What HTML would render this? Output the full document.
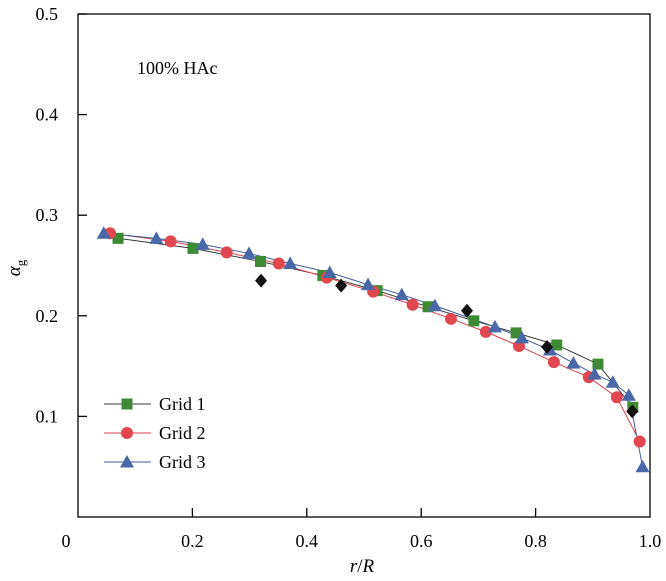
<!DOCTYPE html>
<html><head><meta charset="utf-8"><style>
body{margin:0;background:#fff}
svg{display:block;font-family:"Liberation Serif",serif}
</style></head><body>
<svg id="c" width="666" height="581" viewBox="0 0 666 581">
<g id="axes"></g><g id="series"></g>
<text x="137" y="74" font-size="18">100% HAc</text>
<text x="20" y="268" font-size="19" font-style="italic" transform="rotate(-90 20 268)" text-anchor="middle">α<tspan font-size="13" font-style="normal" dy="5">g</tspan></text>
<text x="362" y="572" font-size="19" text-anchor="middle"><tspan font-style="italic">r</tspan>/<tspan font-style="italic">R</tspan></text>
<g id="legend"></g>
</svg>
<script>
const xTicks=[0,0.2,0.4,0.6,0.8,1.0];
const xTickLabels=["0","0.2","0.4","0.6","0.8","1.0"];
const yTicks=[0.1,0.2,0.3,0.4,0.5];
const yTickLabels=["0.1","0.2","0.3","0.4","0.5"];
const g1x=[.070,.201,.319,.428,.523,.612,.692,.766,.837,.909,.970];
const g1y=[.277,.267,.254,.240,.225,.209,.195,.183,.171,.152,.109];
const g2x=[.056,.162,.260,.351,.435,.516,.585,.652,.713,.771,.832,.893,.942,.982];
const g2y=[.282,.274,.263,.252,.238,.224,.211,.197,.184,.170,.154,.139,.119,.075];
const g3x=[.045,.137,.218,.299,.371,.440,.507,.566,.624,.729,.776,.825,.866,.903,.935,.963,.987];
const g3y=[.282,.277,.271,.262,.252,.243,.231,.221,.210,.189,.178,.166,.153,.142,.134,.121,.050];
const expX=[.320,.460,.680,.820,.969];
const expY=[.235,.230,.205,.169,.105];
const NS="http://www.w3.org/2000/svg";
const X=v=>78+572*v, Y=v=>517-1006*v;
function mk(t,a,p){const e=document.createElementNS(NS,t);for(const k in a)e.setAttribute(k,a[k]);p.appendChild(e);return e;}
const ax=document.getElementById('axes'), se=document.getElementById('series'), lg=document.getElementById('legend');
let l=mk('rect',{x:X(0),y:Y(0.5),width:X(1)-X(0),height:Y(0)-Y(0.5),fill:'none',stroke:'#000','stroke-width':1.3},ax);


xTicks.forEach((v,i)=>{
 if(v>0&&v<1){const k=mk('line',{x1:X(v),x2:X(v),y1:Y(0),y2:Y(0)-9,stroke:'#000','stroke-width':1.3},ax);
 
 }
 const t=mk('text',{x:v===0?66:X(v),y:547,'font-size':18,'text-anchor':'middle'},ax);t.textContent=xTickLabels[i];
 
 
});
yTicks.forEach((v,i)=>{
 const k=mk('line',{x1:X(0),x2:X(0)+9,y1:Y(v),y2:Y(v),stroke:'#000','stroke-width':1.3},ax);
 
 
 const t=mk('text',{x:58,y:Y(v)+6,'font-size':18,'text-anchor':'end'},ax);t.textContent=yTickLabels[i];
 
 
});
function marker(type,cx,cy,col,p){
 if(type==='sq')return mk('rect',{x:cx-5.5,y:cy-5.5,width:11,height:11,fill:col},p);
 if(type==='ci')return mk('circle',{cx,cy,r:6,fill:col},p);
 if(type==='tr')return mk('path',{d:`M${cx} ${cy-7}L${cx+7} ${cy+5.5}L${cx-7} ${cy+5.5}Z`,fill:col},p);
 return mk('path',{d:`M${cx} ${cy-7}L${cx+6} ${cy}L${cx} ${cy+7}L${cx-6} ${cy}Z`,fill:col},p);
}
const S=[[g1x,g1y,'#3a3a3a','#3e8a34','sq','grid-1'],[g2x,g2y,'#d8434b','#e0474f','ci','grid-2'],[g3x,g3y,'#3f5e9a','#4a68a8','tr','grid-3']];
S.forEach(([xs,ys,lc,mc,ty,nm])=>{
 const pl=mk('polyline',{points:xs.map((v,i)=>X(v)+','+Y(ys[i])).join(' '),fill:'none',stroke:lc,'stroke-width':1},se);
 
 
});
S.forEach(([xs,ys,lc,mc,ty,nm])=>{
 xs.forEach((v,i)=>{const m=marker(ty,X(v),Y(ys[i]),mc,se);
 
 });
});
expX.forEach((v,i)=>{const m=marker('di',X(v),Y(expY[i]),'#111',se);
 
 });
S.forEach(([xs,ys,lc,mc,ty,nm],i)=>{
 const y=404+i*29;
 const g=mk('g',{},lg);
 
 
 mk('line',{x1:104,x2:151,y1:y,y2:y,stroke:lc,'stroke-width':1},g);
 marker(ty,127,y,mc,g);
 const t=mk('text',{x:159,y:y+6,'font-size':18},g);t.textContent='Grid '+(i+1);
});
</script>
</body></html>
